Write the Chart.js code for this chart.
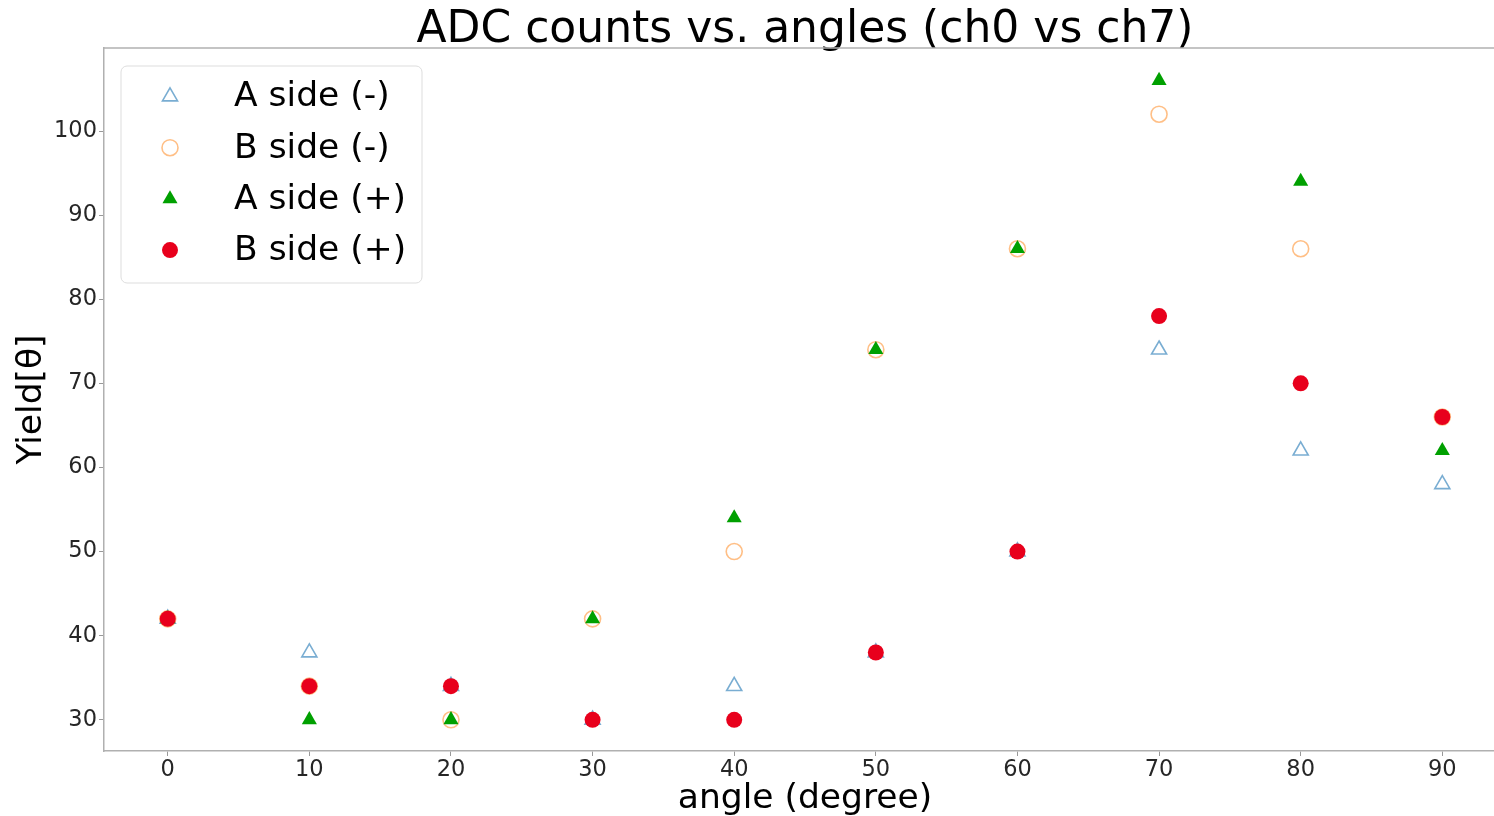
<!DOCTYPE html>
<html>
<head>
<meta charset="utf-8">
<title>ADC counts vs. angles</title>
<script src="https://cdn.jsdelivr.net/npm/chart.js@4.4.1/dist/chart.umd.min.js"></script>
<style>
  html, body { margin: 0; padding: 0; background: #fff; overflow: hidden; }
  #wrap { position: relative; width: 1494px; height: 816px; }
  canvas { display: block; }
</style>
</head>
<body>
<div id="wrap"><canvas id="adcChart" width="1494" height="816"></canvas></div>
<script>
// angle values (degree) and yields
const angles = [0, 10, 20, 30, 40, 50, 60, 70, 80, 90];
const aSideMinus = [42, 38, 34, 30, 34, 38, 50, 74, 62, 58];
const bSideMinus = [42, 34, 30, 42, 50, 74, 86, 102, 86, 66];
const aSidePlus = [42, 30, 30, 42, 54, 74, 86, 106, 94, 62];
const bSidePlus = [42, 34, 34, 30, 30, 38, 50, 78, 70, 66];

const xTicks = [0, 10, 20, 30, 40, 50, 60, 70, 80, 90];
const yTicks = [30, 40, 50, 60, 70, 80, 90, 100];

const FONT = "'DejaVu Sans', 'Liberation Sans', sans-serif";

const toPoints = (ys) => angles.map((a, i) => ({ x: a, y: ys[i] }));

// draw a marker the same way chart.js does, used for the legend
function drawMarker(ctx, ds, x, y) {
  const r = ds.pointRadius;
  ctx.save();
  ctx.beginPath();
  if (ds.pointStyle === "triangle") {
    let rad = 0;
    ctx.moveTo(x + Math.sin(rad) * r, y - Math.cos(rad) * r);
    rad += (2 * Math.PI) / 3;
    ctx.lineTo(x + Math.sin(rad) * r, y - Math.cos(rad) * r);
    rad += (2 * Math.PI) / 3;
    ctx.lineTo(x + Math.sin(rad) * r, y - Math.cos(rad) * r);
    ctx.closePath();
  } else {
    ctx.arc(x, y, r, 0, Math.PI * 2);
  }
  ctx.fillStyle = ds.pointBackgroundColor;
  ctx.fill();
  if (ds.pointBorderWidth > 0) {
    ctx.lineWidth = ds.pointBorderWidth;
    ctx.strokeStyle = ds.pointBorderColor;
    ctx.stroke();
  }
  ctx.restore();
}

// the original frame is cut off about 12px past the right edge,
// so the titles are centred on the full (uncut) frame
const CUT = 12;
const centerTitlesPlugin = {
  id: "centerTitles",
  afterLayout(chart) {
    if (chart.titleBlock) {
      chart.titleBlock.left += CUT / 2;
      chart.titleBlock.right += CUT / 2;
    }
    const xs = chart.scales.x;
    if (!xs._origDrawTitle) {
      xs._origDrawTitle = xs.drawTitle;
      xs.drawTitle = function () {
        this.right += CUT;
        this._origDrawTitle();
        this.right -= CUT;
      };
    }
  },
};

const framePlugin = {
  id: "frame",
  afterDraw(chart) {
    const { ctx, chartArea: a } = chart;
    ctx.save();
    ctx.strokeStyle = "#b0b0b0";
    ctx.lineWidth = 1.5;
    ctx.beginPath();
    ctx.moveTo(a.left, a.top);
    ctx.lineTo(a.right, a.top);
    ctx.stroke();
    ctx.restore();
  },
};

const boxLegendPlugin = {
  id: "boxLegend",
  afterDatasetsDraw(chart) {
    const { ctx, chartArea: a } = chart;
    const bx = a.left + 17, by = a.top + 18, bw = 301, bh = 217;
    ctx.save();
    ctx.beginPath();
    ctx.roundRect(bx, by, bw, bh, 6);
    ctx.fillStyle = "rgba(255,255,255,0.8)";
    ctx.fill();
    ctx.lineWidth = 1;
    ctx.strokeStyle = "#dddddd";
    ctx.stroke();

    ctx.font = "34.5px " + FONT;
    ctx.fillStyle = "#000";
    ctx.textBaseline = "middle";
    ctx.textAlign = "left";
    chart.data.datasets.forEach((ds, i) => {
      const cy = by + 30.5 + i * 51.2;
      drawMarker(ctx, ds, bx + 49, cy);
      ctx.fillText(ds.label, bx + 113, cy + 1);
    });
    ctx.restore();
  },
};

new Chart(document.getElementById("adcChart"), {
  type: "scatter",
  data: {
    datasets: [
      {
        label: "A side (-)",
        data: toPoints(aSideMinus),
        pointStyle: "triangle",
        pointRadius: 8.7,
        pointBackgroundColor: "rgba(255,255,255,0)",
        pointBorderColor: "rgba(31,119,180,0.6)",
        pointBorderWidth: 1.6,
        order: 4,
      },
      {
        label: "B side (-)",
        data: toPoints(bSideMinus),
        pointStyle: "circle",
        pointRadius: 8,
        pointBackgroundColor: "rgba(255,255,255,0)",
        pointBorderColor: "rgba(255,127,14,0.5)",
        pointBorderWidth: 1.6,
        order: 3,
      },
      {
        label: "A side (+)",
        data: toPoints(aSidePlus),
        pointStyle: "triangle",
        pointRadius: 8.7,
        pointBackgroundColor: "#00a000",
        pointBorderColor: "#00a000",
        pointBorderWidth: 0,
        order: 2,
      },
      {
        label: "B side (+)",
        data: toPoints(bSidePlus),
        pointStyle: "circle",
        pointRadius: 8,
        pointBackgroundColor: "#e8001c",
        pointBorderColor: "#e8001c",
        pointBorderWidth: 0,
        order: 1,
      },
    ],
  },
  options: {
    responsive: false,
    animation: false,
    layout: { padding: 0, autoPadding: false },
    plugins: {
      legend: { display: false },
      tooltip: { enabled: false },
      title: {
        display: true,
        fullSize: false,
        text: "ADC counts vs. angles (ch0 vs ch7)",
        color: "#000",
        font: { family: FONT, size: 44, weight: "normal", lineHeight: 0.8 },
        padding: { top: 12.8, bottom: 0 },
      },
    },
    scales: {
      x: {
        type: "linear",
        min: -4.5,
        max: 93.65,
        afterBuildTicks: (s) => { s.ticks = xTicks.map((v) => ({ value: v })); },
        afterFit: (s) => { s.height = 65; },
        grid: { display: true, drawOnChartArea: false, drawTicks: true, tickLength: 5, color: "#999" },
        border: { display: true, color: "#b0b0b0", width: 1.5 },
        ticks: { font: { family: FONT, size: 22.5 }, color: "#262626", padding: 1, maxRotation: 0 },
        title: {
          display: true,
          text: "angle (degree)",
          color: "#000",
          font: { family: FONT, size: 34.5, lineHeight: 1 },
          padding: { top: 0, bottom: 0 },
        },
      },
      y: {
        type: "linear",
        min: 26.29,
        max: 109.87,
        afterBuildTicks: (s) => { s.ticks = yTicks.map((v) => ({ value: v })); },
        afterFit: (s) => { s.width = 104; },
        grid: { display: true, drawOnChartArea: false, drawTicks: true, tickLength: 5, color: "#999" },
        border: { display: true, color: "#b0b0b0", width: 1.5 },
        ticks: { font: { family: FONT, size: 22.5 }, color: "#262626", padding: 2 },
        title: {
          display: true,
          text: "Yield[θ]",
          color: "#000",
          font: { family: FONT, size: 34.5 },
          padding: { top: 11.5, bottom: 0 },
        },
      },
    },
  },
  plugins: [centerTitlesPlugin, framePlugin, boxLegendPlugin],
});
</script>
</body>
</html>
